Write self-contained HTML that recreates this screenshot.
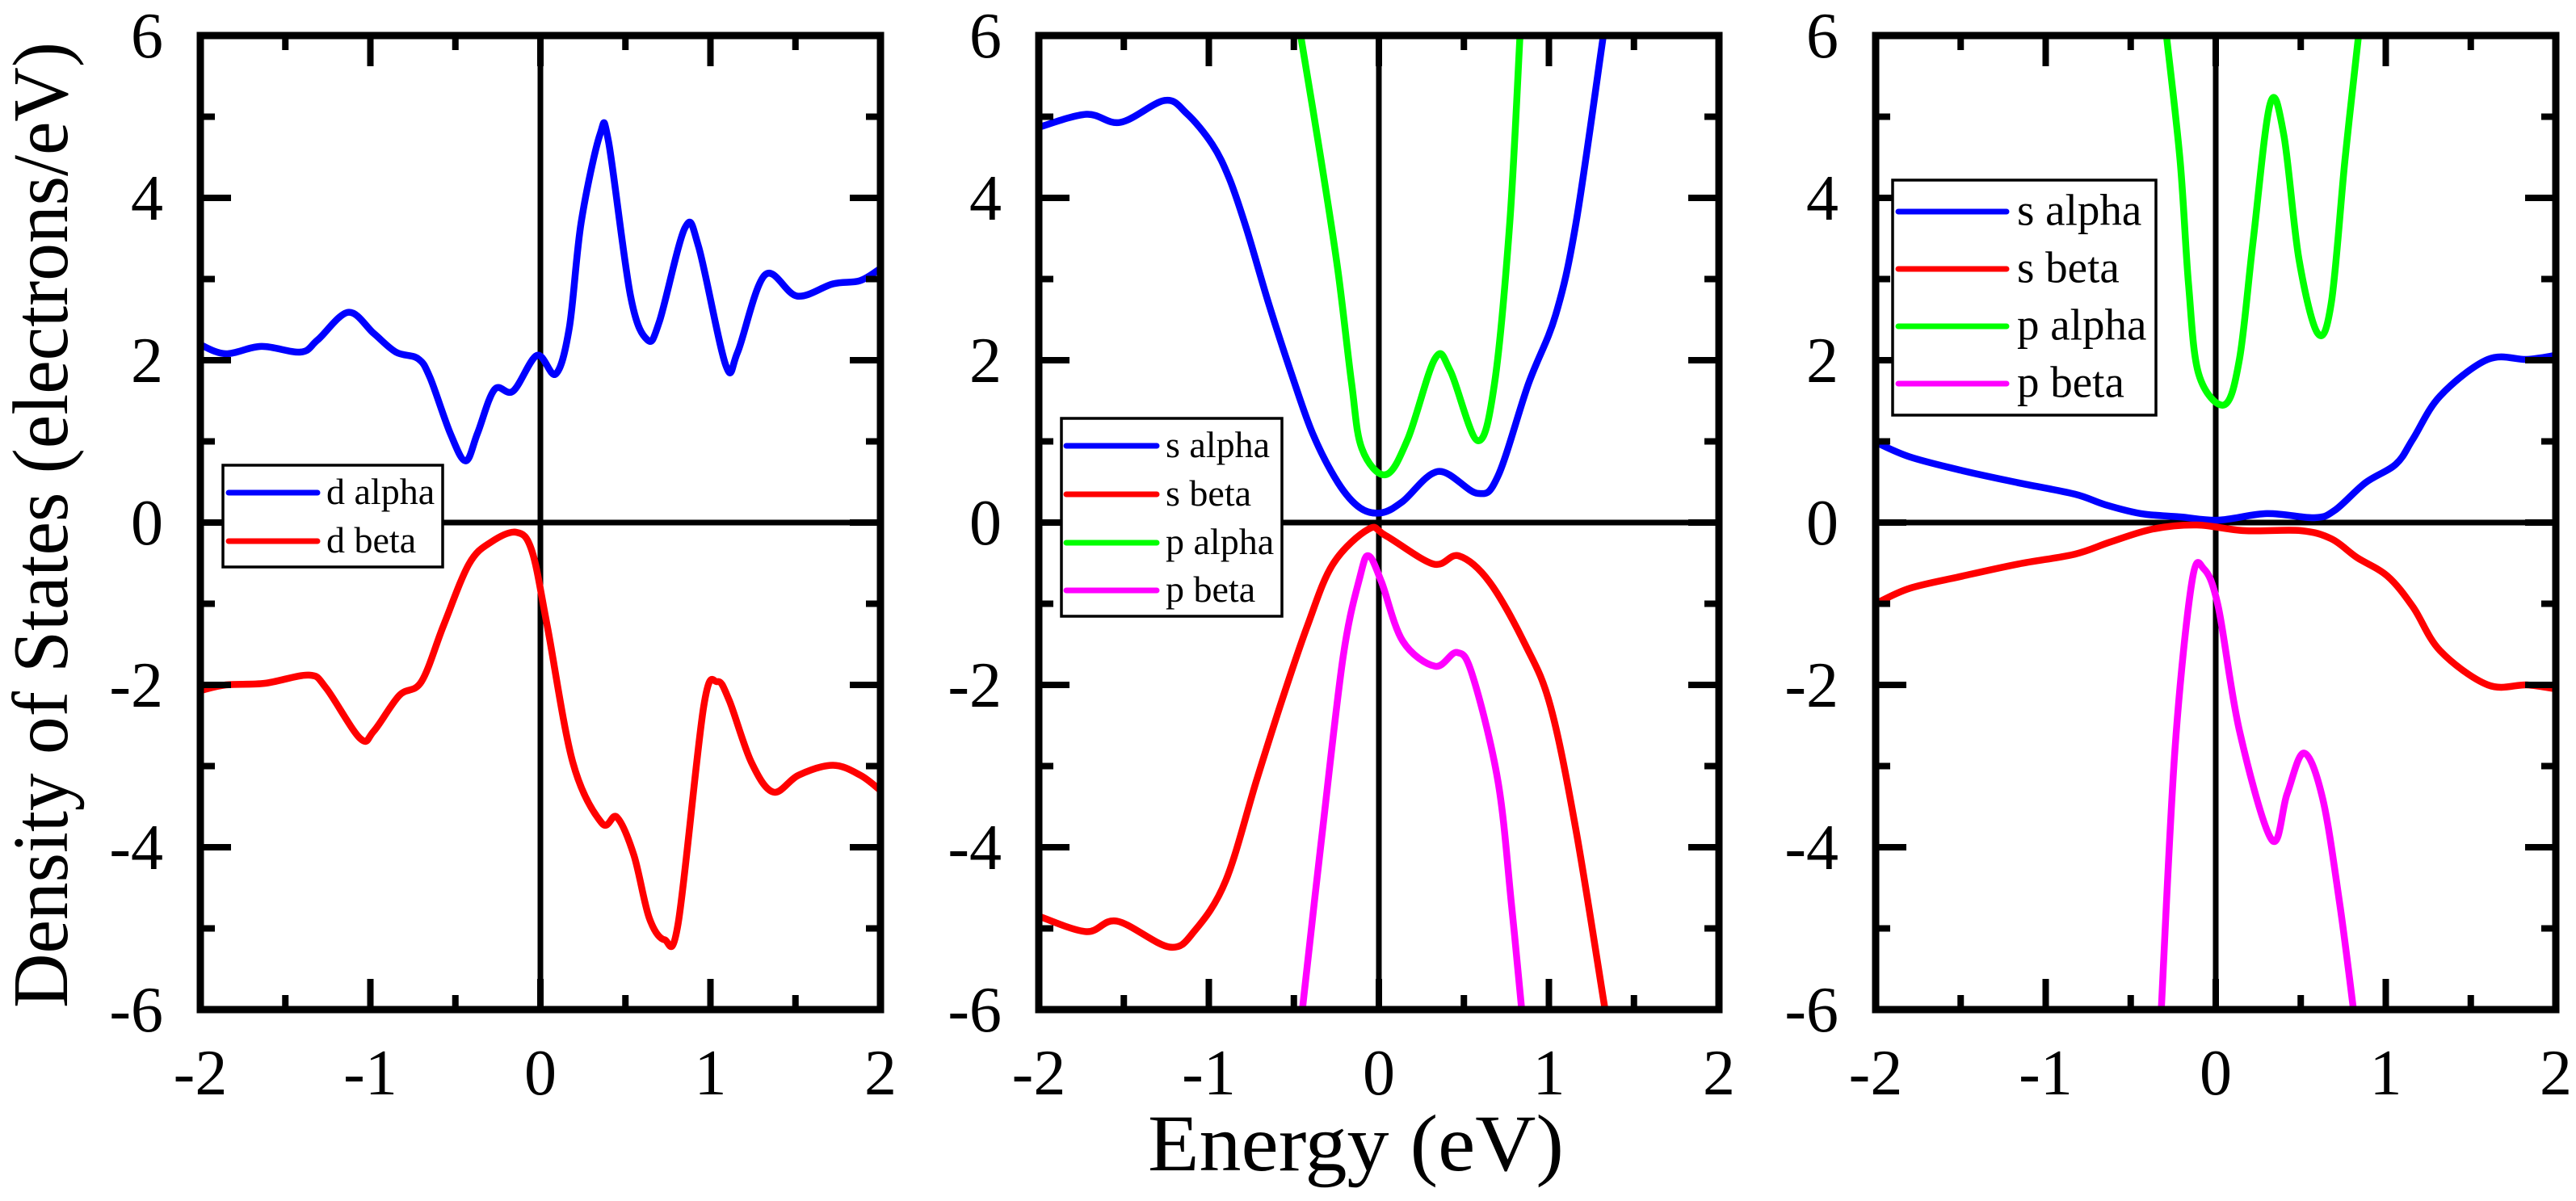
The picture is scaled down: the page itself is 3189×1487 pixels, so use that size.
<!DOCTYPE html>
<html><head><meta charset="utf-8"><style>
html,body{margin:0;padding:0;background:#fff;}
svg{display:block;}
svg text{font-family:"Liberation Serif","DejaVu Serif",serif;fill:#000;}
</style></head><body>
<svg id="chart" width="3189" height="1487" viewBox="0 0 3189 1487" xmlns="http://www.w3.org/2000/svg" font-family="Liberation Serif, DejaVu Serif, serif">
<defs>
<clipPath id="c0"><rect x="248" y="44" width="842" height="1206"/></clipPath>
<clipPath id="c1"><rect x="1286" y="44" width="842" height="1206"/></clipPath>
<clipPath id="c2"><rect x="2322" y="44" width="842" height="1206"/></clipPath>
</defs>
<g id="layer"></g>
<text font-family="Liberation Serif, serif" transform="translate(83,650) rotate(-90)" text-anchor="middle" font-size="97" textLength="1196" lengthAdjust="spacingAndGlyphs">Density of States (electrons/eV)</text>
<text font-family="Liberation Serif, serif" x="1421" y="1449" font-size="100" textLength="515" lengthAdjust="spacingAndGlyphs">Energy (eV)</text>
</svg>
<script>
// ---- data ----
const xTicks = [-2, -1, 0, 1, 2];
const yTicks = [-6, -4, -2, 0, 2, 4, 6];
const xTickLabels = ["-2", "-1", "0", "1", "2"];
const yTickLabels = ["-6", "-4", "-2", "0", "2", "4", "6"];

const p1DAlphaX = [-2,-1.85,-1.64,-1.41,-1.31,-1.13,-0.98,-0.85,-0.72,-0.65,-0.53,-0.44,-0.37,-0.27,-0.16,-0.02,0.09,0.17,0.24,0.35,0.40,0.53,0.63,0.70,0.85,0.93,1.09,1.16,1.32,1.51,1.72,1.88,2.0];
const p1DAlphaY = [2.19,2.08,2.17,2.10,2.25,2.59,2.33,2.10,2.02,1.79,1.10,0.76,1.10,1.64,1.62,2.06,1.83,2.40,3.70,4.78,4.70,2.79,2.25,2.48,3.63,3.40,1.94,2.10,3.05,2.79,2.94,2.98,3.13];
const p1DBetaX = [-2,-1.85,-1.62,-1.36,-1.26,-1.06,-0.98,-0.83,-0.70,-0.57,-0.42,-0.29,-0.14,-0.05,0.04,0.19,0.36,0.45,0.55,0.64,0.73,0.81,0.96,1.04,1.11,1.24,1.37,1.52,1.72,1.88,2.0];
const p1DBetaY = [-2.07,-2.00,-1.98,-1.88,-2.04,-2.66,-2.57,-2.13,-1.96,-1.27,-0.51,-0.24,-0.12,-0.35,-1.27,-2.95,-3.70,-3.63,-4.10,-4.87,-5.14,-4.94,-2.27,-1.96,-2.19,-2.95,-3.32,-3.11,-2.99,-3.11,-3.30];

const p2SAlphaX = [-2,-1.72,-1.52,-1.26,-1.13,-0.98,-0.88,-0.78,-0.65,-0.52,-0.39,-0.24,-0.11,0.015,0.14,0.35,0.58,0.70,0.88,1.04,1.16,1.32];
const p2SAlphaY = [4.87,5.03,4.93,5.20,5.04,4.66,4.24,3.63,2.71,1.87,1.10,0.49,0.18,0.12,0.26,0.63,0.36,0.57,1.71,2.56,3.70,6.0];
const p2SBetaX = [-2,-1.72,-1.54,-1.23,-1.08,-0.90,-0.72,-0.57,-0.42,-0.27,-0.06,0.04,0.32,0.47,0.65,0.86,1.01,1.16,1.33];
const p2SBetaY = [-4.85,-5.04,-4.91,-5.23,-5.02,-4.41,-3.18,-2.19,-1.27,-0.51,-0.08,-0.16,-0.51,-0.41,-0.73,-1.50,-2.27,-3.80,-6.0];
const p2PAlphaX = [-0.46,-0.34,-0.24,-0.16,-0.10,0.04,0.17,0.33,0.42,0.58,0.68,0.77,0.83];
const p2PAlphaY = [6.0,4.47,3.09,1.71,0.91,0.59,1.03,2.02,1.87,1.01,1.71,3.70,6.0];
const p2PBetaX = [-0.45,-0.34,-0.21,-0.11,-0.06,0.015,0.14,0.33,0.46,0.55,0.70,0.78,0.84];
const p2PBetaY = [-6.0,-3.95,-1.65,-0.66,-0.41,-0.73,-1.46,-1.77,-1.60,-1.88,-3.18,-4.71,-6.0];

const p3SAlphaX = [-2,-1.80,-1.49,-1.16,-0.83,-0.65,-0.44,-0.21,0.015,0.30,0.58,0.70,0.88,1.06,1.16,1.32,1.60,1.83,2.0];
const p3SAlphaY = [0.99,0.81,0.64,0.49,0.35,0.22,0.11,0.07,0.03,0.11,0.06,0.15,0.49,0.72,1.03,1.56,2.01,2.01,2.06];
const p3SBetaX = [-2,-1.80,-1.49,-1.16,-0.83,-0.62,-0.37,-0.11,0.17,0.50,0.68,0.83,1.01,1.16,1.32,1.60,1.83,2.0];
const p3SBetaY = [-1.0,-0.81,-0.66,-0.51,-0.39,-0.24,-0.08,-0.03,-0.10,-0.10,-0.20,-0.43,-0.66,-1.04,-1.58,-2.00,-2.00,-2.05];
const p3PAlphaX = [-0.29,-0.21,-0.16,-0.10,0.05,0.14,0.22,0.32,0.40,0.49,0.60,0.68,0.76,0.84];
const p3PAlphaY = [6.0,4.47,2.94,1.83,1.45,2.02,3.47,5.16,4.78,3.24,2.33,2.71,4.47,6.0];
const p3PBetaX = [-0.32,-0.24,-0.14,-0.07,0.015,0.14,0.33,0.42,0.52,0.63,0.73,0.81];
const p3PBetaY = [-6.0,-2.80,-0.73,-0.57,-1.04,-2.57,-3.91,-3.34,-2.84,-3.41,-4.71,-6.0];

const NS = "http://www.w3.org/2000/svg";
const FONT = "Liberation Serif, DejaVu Serif, serif";
const layer = document.getElementById('layer');
const panelLeft = [248, 1286, 2322];
const PW = 842, TOP = 44, BOT = 1250;
function xScale(p, v){ return panelLeft[p] + (v + 2) / 4 * PW; }
function yScale(v){ return TOP + (6 - v) / 12 * (BOT - TOP); }
function mk(tag, attrs, parent){
  const e = document.createElementNS(NS, tag);
  for (const k in attrs) e.setAttribute(k, attrs[k]);
  if (tag === 'text') e.setAttribute('font-family', FONT);
  (parent || layer).appendChild(e);
  return e;
}
function smoothPath(pts){
  let d = 'M' + pts[0][0].toFixed(1) + ',' + pts[0][1].toFixed(1);
  for (let i = 0; i < pts.length - 1; i++){
    const p0 = pts[i-1] || pts[i], p1 = pts[i], p2 = pts[i+1], p3 = pts[i+2] || p2;
    const c1x = p1[0] + (p2[0]-p0[0])/6, c1y = p1[1] + (p2[1]-p0[1])/6;
    const c2x = p2[0] - (p3[0]-p1[0])/6, c2y = p2[1] - (p3[1]-p1[1])/6;
    d += ' C' + c1x.toFixed(1)+','+c1y.toFixed(1)+' '+c2x.toFixed(1)+','+c2y.toFixed(1)+' '+p2[0].toFixed(1)+','+p2[1].toFixed(1);
  }
  return d;
}

const panels = [
  {series:[[p1DAlphaX,p1DAlphaY,'#0000ff','d-alpha'],[p1DBetaX,p1DBetaY,'#ff0000','d-beta']],
   legend:{x:276,y:576,w:272,h:126,rows:[610,670],lx1:283,lx2:393,tx:404,fs:46,labels:['d alpha','d beta'],colors:['#0000ff','#ff0000']}},
  {series:[[p2SAlphaX,p2SAlphaY,'#0000ff','s-alpha'],[p2SBetaX,p2SBetaY,'#ff0000','s-beta'],[p2PAlphaX,p2PAlphaY,'#00ff00','p-alpha'],[p2PBetaX,p2PBetaY,'#ff00ff','p-beta']],
   legend:{x:1314,y:518,w:273,h:245,rows:[552,612,672,731],lx1:1320,lx2:1432,tx:1443,fs:46,labels:['s alpha','s beta','p alpha','p beta'],colors:['#0000ff','#ff0000','#00ff00','#ff00ff']}},
  {series:[[p3SAlphaX,p3SAlphaY,'#0000ff','s-alpha'],[p3SBetaX,p3SBetaY,'#ff0000','s-beta'],[p3PAlphaX,p3PAlphaY,'#00ff00','p-alpha'],[p3PBetaX,p3PBetaY,'#ff00ff','p-beta']],
   legend:{x:2343,y:223,w:326,h:291,rows:[262,333,404,475],lx1:2350,lx2:2484,tx:2497,fs:55,labels:['s alpha','s beta','p alpha','p beta'],colors:['#0000ff','#ff0000','#00ff00','#ff00ff']}}
];

panels.forEach((P, p) => {
  const g = mk('g', {});
  
  
  const L = panelLeft[p], R = L + PW;
  const zh = mk('line', {x1:L, x2:R, y1:yScale(0), y2:yScale(0), stroke:'#000', 'stroke-width':7}, g);
  
  
  const zv = mk('line', {x1:xScale(p,0), x2:xScale(p,0), y1:TOP, y2:BOT, stroke:'#000', 'stroke-width':7}, g);
  
  
  const sg = mk('g', {'clip-path':'url(#c'+p+')'}, g);
  P.series.forEach(s => {
    const pts = s[0].map((xv, i) => [xScale(p, xv), yScale(s[1][i])]);
    const path = mk('path', {d:smoothPath(pts), fill:'none', stroke:s[2], 'stroke-width':8.5, 'stroke-linejoin':'round', 'stroke-linecap':'round'}, sg);
    
    
  });
  for (let v = -2; v <= 2.001; v += 0.5){
    const major = Math.abs(v - Math.round(v)) < 1e-6;
    const len = major ? 38 : 18, x = xScale(p, v);
    if (v > -2 && v < 2){
      const t1 = mk('line', {x1:x, x2:x, y1:BOT, y2:BOT-len, stroke:'#000', 'stroke-width':8}, g);
      
      
      const t2 = mk('line', {x1:x, x2:x, y1:TOP, y2:TOP+len, stroke:'#000', 'stroke-width':8}, g);
      
      
    }
  }
  for (let v = -6; v <= 6; v += 1){
    const major = v % 2 === 0;
    const len = major ? 38 : 18, y = yScale(v);
    if (v > -6 && v < 6){
      const t1 = mk('line', {x1:L, x2:L+len, y1:y, y2:y, stroke:'#000', 'stroke-width':8}, g);
      
      
      const t2 = mk('line', {x1:R, x2:R-len, y1:y, y2:y, stroke:'#000', 'stroke-width':8}, g);
      
      
    }
  }
  const fr = mk('rect', {x:L, y:TOP, width:PW, height:BOT-TOP, fill:'none', stroke:'#000', 'stroke-width':9}, g);
  
  
  xTicks.forEach((v, i) => {
    const t = mk('text', {x:xScale(p, v), y:1355, 'font-size':80, 'text-anchor':'middle'}, g);
    t.textContent = xTickLabels[i];
    
    
  });
  yTicks.forEach((v, i) => {
    const t = mk('text', {x:L-46, y:yScale(v)+27, 'font-size':80, 'text-anchor':'end'}, g);
    t.textContent = yTickLabels[i];
    
    
  });
  const Lg = P.legend;
  const lg = mk('g', {}, g);
  
  
  mk('rect', {x:Lg.x, y:Lg.y, width:Lg.w, height:Lg.h, fill:'#fff', stroke:'#000', 'stroke-width':3.5}, lg);
  Lg.labels.forEach((lab, i) => {
    const e = mk('g', {}, lg);
    
    
    mk('line', {x1:Lg.lx1, x2:Lg.lx2, y1:Lg.rows[i], y2:Lg.rows[i], stroke:Lg.colors[i], 'stroke-width':7, 'stroke-linecap':'round'}, e);
    const t = mk('text', {x:Lg.tx, y:Lg.rows[i] + Lg.fs*0.3, 'font-size':Lg.fs}, e);
    t.textContent = lab;
  });
});
</script>
</body></html>
